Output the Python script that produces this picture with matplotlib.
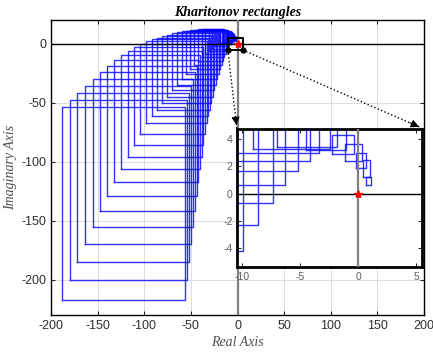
import numpy as np
import matplotlib
matplotlib.use('Agg')
from matplotlib import pyplot as plt

# Kharitonov rectangles, smallest frequency first
rect_left = [0.69, 0.43, -0.23, -1.16, -2.26, -4.5, -7.0, -9.08, -11.2, -13.5,
             -15.9, -18.6, -21.4, -24.5, -27.7, -31.1, -34.6, -38.4, -42.4, -46.5,
             -50.8, -55.3, -60.0, -64.9, -69.9, -75.2, -80.6, -86.0, -91.6, -98.0,
             -104.3, -110.9, -117.8, -124.9, -132.2, -139.8, -147.5, -155.4, -163.4, -171.6,
             -180.0, -188.3]
rect_right = [1.07, 1.00, 0.69, 0.35, -0.38, -1.1, -1.8, -2.43, -3.38, -4.17,
              -5.18, -6.28, -7.35, -8.59, -9.89, -11.2, -12.6, -14.0, -15.5, -17.0,
              -18.5, -20.0, -21.6, -23.2, -24.8, -26.4, -28.0, -29.7, -31.4, -33.2,
              -35.0, -36.8, -38.5, -40.3, -42.0, -43.9, -46.0, -48.1, -50.3, -52.4,
              -54.6, -56.4]
rect_bottom = [0.61, 1.19, 1.85, 2.35, 2.89, 3.2, 3.38, 3.26, 2.96, 2.40,
               1.65, 0.62, -0.69, -2.3, -4.22, -6.4, -8.9, -11.7, -14.8, -18.2,
               -21.9, -25.9, -30.2, -34.8, -39.7, -44.9, -50.3, -56.0, -61.5, -67.2,
               -76.2, -85.6, -95.8, -105.9, -117.1, -129.0, -142.1, -155.7, -169.5, -185.0,
               -200.6, -217.5]
rect_top = [1.19, 2.42, 3.0, 3.6, 4.3, 5.2, 6.0, 6.8, 7.6, 8.4,
            9.1, 9.8, 10.4, 10.9, 11.4, 11.7, 11.9, 12.0, 12.0, 11.8,
            11.5, 11.0, 10.3, 9.5, 8.6, 7.5, 6.3, 5.0, 3.5, 1.8,
            -0.3, -3.0, -6.0, -9.5, -13.5, -18.6, -24.2, -30.0, -35.7, -41.5,
            -47.5, -53.5]

main_xticks = [-200, -150, -100, -50, 0, 50, 100, 150, 200]
main_yticks = [-200, -150, -100, -50, 0]
zoom_xlim = [-10.4, 5.5]
zoom_ylim = [-5.4, 4.7]
zoom_xticks = [-10, -5, 0, 5]
zoom_yticks = [-4, -2, 0, 2, 4]

SERIF = ['Liberation Serif', 'DejaVu Serif']
plt.rcParams['font.family'] = ['Liberation Sans', 'DejaVu Sans']
plt.rcParams['axes.unicode_minus'] = False


def draw_rects(ax):
    for l, r, b, t in zip(rect_left, rect_right, rect_bottom, rect_top):
        ax.plot([l, r, r, l, l], [b, b, t, t, b], color=(0, 0, 1), lw=1.0, alpha=0.8)


def draw_axes_lines(ax):
    ax.axhline(0, color='k', lw=1.0, zorder=3)
    ax.axvline(0, color='#808080', lw=1.6, zorder=3)
    ax.plot([0], [0], marker='*', color='red', ms=6, zorder=5)


def style_ticks(ax, size, color):
    ax.tick_params(direction='in', top=True, right=True, length=3,
                   labelsize=size, labelcolor=color, color='#262626')


fig = plt.figure(figsize=(4.33, 3.54), dpi=100)
ax = fig.add_axes([0.1178, 0.1102, 0.8614, 0.8333])
draw_rects(ax)
draw_axes_lines(ax)
ax.set_xlim(-200, 200)
ax.set_ylim(-230, 20)
ax.set_xticks(main_xticks)
ax.set_yticks(main_yticks)
ax.grid(True, color='#dcdcdc', lw=0.7)
ax.set_axisbelow(True)
style_ticks(ax, 9, '#303030')
for s in ax.spines.values():
    s.set_linewidth(1.0)
ax.set_xlabel('Real Axis', family=SERIF, style='italic', fontsize=10, color='#505050', labelpad=3)
ax.set_ylabel('Imaginary Axis', family=SERIF, style='italic', fontsize=10, color='#505050', labelpad=3)
ax.set_title('Kharitonov rectangles', family=SERIF, style='italic', weight='bold', fontsize=10, pad=3)

# zoom box and connectors
zx0, zx1 = zoom_xlim
zy0, zy1 = zoom_ylim
ax.plot([zx0, zx1, zx1, zx0, zx0], [zy0, zy0, zy1, zy1, zy0], color='k', lw=1.4, zorder=6)
ax.plot([zx0, zx1], [zy0, zy0], 'o', color='k', ms=3.5, zorder=7)
for start, end in [((zx0, zy0), (-0.7, -71.5)), ((zx1, zy0), (197.5, -71.5))]:
    ax.plot([start[0], end[0]], [start[1], end[1]], color='k', lw=1.0, ls=':', zorder=6)
    ax.annotate('', xy=end, xytext=(end[0] - (end[0] - start[0]) * 0.08, end[1] - (end[1] - start[1]) * 0.08),
                arrowprops=dict(arrowstyle='-|>', color='k', lw=0.8, mutation_scale=12), zorder=8)

ins = fig.add_axes([0.548, 0.2449, 0.4273, 0.3898])
draw_rects(ins)
draw_axes_lines(ins)
ins.set_xlim(zoom_xlim)
ins.set_ylim(zoom_ylim)
ins.set_xticks(zoom_xticks)
ins.set_yticks(zoom_yticks)
style_ticks(ins, 7.5, '#606060')
for s in ins.spines.values():
    s.set_linewidth(2.0)

fig.savefig('out.png', dpi=100)
